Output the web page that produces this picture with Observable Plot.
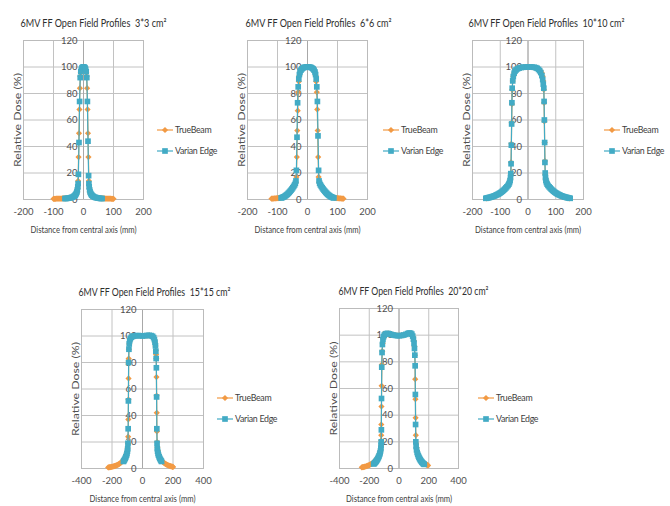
<!DOCTYPE html>
<html>
<head>
<meta charset="utf-8">
<script src="https://cdn.jsdelivr.net/npm/d3@7"></script>
<script src="https://cdn.jsdelivr.net/npm/@observablehq/plot@0.6"></script>
<style>
  body { margin: 0; background: #fff; }
  #chart { position: relative; width: 670px; height: 506px; overflow: hidden; background: #fff; }
  #chart svg { position: absolute; }
</style>
</head>
<body>
<div id="chart"></div>
<script>
// Off-axis dose profiles, [distance from central axis (mm), relative dose (%)]

const trueBeam3 = [[-100,0.5],[-97,0.5],[-94,0.5],[-91,0.6],[-88,0.6],[-85,0.6],[-82,0.6],[-79,0.7],[-76,0.7],[-73,0.7],[-70,0.8],[-67,0.8],[-64,0.8],[-60,0.9],[-55,1.0],[-50,1.1],[-45,1.3],[-40,1.5],[-35,1.9],[-30,2.5],[-26,3.4],[-23,4.6],[-21,6.2],[-19.5,8.5],[-18,14],[-16.5,32],[-15,50],[-13.5,68],[-12,84],[-10.5,93],[-9,96],[-7,98],[-5,99.2],[-3,99.8],[-1,100],[1,100],[3,99.8],[5,99.2],[7,98],[9,96],[10.5,93],[12,84],[13.5,68],[15,50],[16.5,32],[18,14],[19.5,8.5],[21,6.2],[23,4.6],[26,3.4],[30,2.5],[35,1.9],[40,1.5],[45,1.3],[50,1.1],[55,1.0],[60,0.9],[64,0.8],[67,0.8],[70,0.8],[73,0.7],[76,0.7],[79,0.7],[82,0.6],[85,0.6],[88,0.6],[91,0.6],[94,0.5],[97,0.5],[100,0.5]];
const edge3 = [[-62,0.7],[-58,0.8],[-54,0.9],[-50,1.0],[-46,1.2],[-42,1.4],[-38,1.7],[-34,2.1],[-31,2.6],[-28,3.2],[-26,3.8],[-24,4.6],[-22,5.7],[-20.5,7.2],[-19,9.5],[-18,12],[-17,19],[-15,43],[-13,74],[-11,92],[-9,96.5],[-7,98.3],[-5,99.3],[-3,99.8],[-1,100],[1,100],[3,99.8],[5,99.3],[7,98.3],[9,96.5],[11,92],[13,74],[15,44],[17,18],[18,12],[19,9.5],[20.5,7.2],[22,5.7],[24,4.6],[26,3.8],[28,3.2],[31,2.6],[34,2.1],[38,1.7],[42,1.4],[46,1.2],[50,1.0],[54,0.9],[58,0.8],[62,0.7]];

const trueBeam6 = [[-120,0.6],[-117,0.7],[-114,0.7],[-111,0.8],[-108,0.8],[-105,0.9],[-102,1.0],[-99,1.0],[-96,1.1],[-93,1.2],[-90,1.3],[-86,1.6],[-80,2.2],[-74,3.0],[-68,4.0],[-62,5.2],[-56,6.6],[-50,8.2],[-46,9.6],[-42,11.2],[-39,13],[-37,17],[-35.5,32],[-34,52],[-32.5,67],[-31,81],[-29,89],[-27,93.5],[-24,96.3],[-20,98],[-15,99.1],[-10,99.7],[-5,100],[0,100],[5,100],[10,99.7],[15,99.1],[20,98],[24,96.3],[27,93.5],[29,89],[31,81],[32.5,68],[34,52],[35.5,32],[37,17],[39,13],[42,11.2],[46,9.6],[50,8.2],[56,6.6],[62,5.2],[68,4.0],[74,3.0],[80,2.2],[86,1.6],[90,1.3],[93,1.2],[96,1.1],[99,1.0],[102,1.0],[105,0.9],[108,0.8],[111,0.8],[114,0.7],[117,0.7],[120,0.6]];
const edge6 = [[-88,1.2],[-85,1.4],[-82,1.7],[-79,2.0],[-76,2.4],[-73,2.9],[-70,3.4],[-67,4.0],[-64,4.7],[-61,5.4],[-58,6.2],[-55,7.0],[-52,7.9],[-49,8.9],[-46,9.9],[-43,11],[-40.5,12.2],[-38.5,14],[-37,22],[-35,47],[-33,73],[-31,85],[-29,91],[-27,94.3],[-25,96.2],[-22,97.6],[-19,98.5],[-16,99.1],[-12,99.6],[-8,99.9],[-4,100],[0,100],[4,100],[8,99.9],[12,99.6],[16,99.1],[19,98.5],[22,97.6],[25,96.2],[27,94.3],[29,91],[31,85],[33,74],[35,48],[37,22],[38.5,14],[40.5,12.2],[43,11],[46,9.9],[49,8.9],[52,7.9],[55,7.0],[58,6.2],[61,5.4],[64,4.7],[67,4.0],[70,3.4],[73,2.9],[76,2.4],[79,2.0],[82,1.7],[85,1.4],[88,1.2]];

const trueBeam10 = [[-150,0.9],[-144,1.2],[-138,1.5],[-132,1.8],[-126,2.2],[-120,2.6],[-114,3.1],[-108,3.7],[-102,4.4],[-96,5.2],[-90,6.2],[-84,7.4],[-78,8.8],[-73,10.2],[-69,11.6],[-66,13.2],[-63.5,15.5],[-62,19],[-61,28],[-60,42],[-59,58],[-58,72],[-57,83],[-55,89.5],[-53,93],[-50,95.5],[-46,97],[-40,98.3],[-33,99.1],[-25,99.6],[-15,99.9],[-5,100],[5,100],[15,99.9],[25,99.6],[33,99.1],[40,98.3],[46,97],[50,95.5],[53,93],[55,89.5],[57,83],[58,73],[59,59],[60,43],[61,29],[62,19],[63.5,15.5],[66,13.2],[69,11.6],[73,10.2],[78,8.8],[84,7.4],[90,6.2],[96,5.2],[102,4.4],[108,3.7],[114,3.1],[120,2.6],[126,2.2],[132,1.8],[138,1.5],[144,1.2],[150,0.9]];
const edge10 = [[-152,0.9],[-148,1.1],[-144,1.3],[-140,1.5],[-136,1.7],[-132,1.9],[-128,2.2],[-124,2.5],[-120,2.8],[-116,3.2],[-112,3.6],[-108,4.0],[-104,4.5],[-100,5.0],[-96,5.6],[-92,6.3],[-88,7.0],[-84,7.8],[-80,8.7],[-76,9.6],[-72,10.6],[-69,11.6],[-66.5,12.8],[-64.5,14.3],[-63,16.5],[-62,19.5],[-61,27],[-60,41],[-59,57],[-58,73],[-57,84],[-55,89.5],[-53,92.8],[-50,95.3],[-47,96.8],[-43,97.8],[-38,98.6],[-32,99.2],[-25,99.6],[-18,99.8],[-10,100],[-2,100],[6,100],[14,100],[22,99.8],[28,99.5],[33,99.0],[38,98.2],[42,97.2],[46,95.8],[50,93.5],[53,90.5],[55,87],[57,84],[58,74],[59,60],[60,43],[61,28],[62,20],[63,16.5],[64.5,14.3],[66.5,12.8],[69,11.6],[72,10.6],[76,9.6],[80,8.7],[84,7.8],[88,7.0],[92,6.3],[96,5.6],[100,5.0],[104,4.5],[108,4.0],[112,3.6],[116,3.2],[120,2.8],[124,2.5],[128,2.2],[132,1.9],[136,1.7],[140,1.5],[144,1.3],[148,1.1],[152,0.9]];

const trueBeam15 = [[-225,0.8],[-220,0.9],[-215,1.0],[-210,1.1],[-205,1.2],[-200,1.3],[-195,1.5],[-190,1.6],[-185,1.8],[-180,2.0],[-175,2.2],[-170,2.4],[-165,2.7],[-160,3.0],[-155,3.3],[-150,3.7],[-145,4.1],[-140,4.6],[-135,5.1],[-130,5.7],[-125,6.4],[-120,7.2],[-115,8.2],[-110,9.5],[-105,11],[-100,13],[-97.5,15.5],[-95.5,19],[-94,24],[-93,37],[-92,52],[-91.5,68],[-90.5,83],[-89,90],[-86.5,94],[-82,96.5],[-76,98],[-68,99],[-58,99.6],[-45,100],[-30,100.2],[-15,100.1],[0,100],[15,100.1],[30,100.3],[44,100.4],[56,100.2],[66,99.7],[73,98.7],[78,97.2],[82,95.2],[85,92.5],[87.5,89],[89,86],[90.5,83],[91.5,69],[92.5,55],[93.5,42],[94.5,28],[96,20],[98,16],[101,13.5],[104,11.5],[108,9.8],[113,8.4],[118,7.3],[123,6.4],[128,5.7],[133,5.1],[138,4.6],[143,4.1],[148,3.7],[153,3.3],[158,3.0],[163,2.7],[168,2.4],[173,2.2],[178,2.0],[183,1.8],[188,1.6],[193,1.5],[198,1.3],[200,1.2]];
const edge15 = [[-125,5.3],[-121,6.0],[-117,6.8],[-113,7.7],[-109,8.8],[-105,10.0],[-102,11.3],[-99,13],[-97,15],[-95.5,19],[-94,30],[-92.5,51],[-91,80],[-89,90],[-87,94],[-84,96.5],[-80,98],[-74,99],[-66,99.6],[-56,100],[-44,100.2],[-30,100.3],[-15,100.2],[0,100],[15,100.2],[30,100.4],[44,100.5],[56,100.3],[66,99.8],[73,98.8],[78,97.3],[82,95.3],[85,92.6],[87.5,88.5],[89.5,83],[91,76],[92.5,54],[94,30],[95.5,19],[97,15],[99,13],[102,11.3],[105,10.0],[109,8.8],[113,7.7],[117,6.8],[121,6.0],[125,5.3]];

const trueBeam20 = [[-250,0.9],[-245,1.0],[-240,1.1],[-235,1.2],[-230,1.4],[-225,1.5],[-220,1.7],[-215,1.9],[-210,2.1],[-205,2.3],[-200,2.6],[-195,2.9],[-190,3.2],[-185,3.5],[-180,3.9],[-175,4.3],[-170,4.8],[-165,5.3],[-160,5.9],[-155,6.5],[-150,7.2],[-145,8.0],[-140,8.9],[-135,10],[-130,11.2],[-126,12.7],[-123,14.5],[-121,17],[-120,21],[-119.5,25],[-119,33],[-118,46.5],[-117,62],[-115,78],[-112.5,88],[-109.5,94],[-105,97.6],[-99,99.5],[-90,100.6],[-80,101.1],[-70,101.2],[-60,101],[-45,100.5],[-30,100.1],[-15,99.8],[0,99.7],[15,99.8],[30,100.1],[45,100.6],[60,101.1],[70,101.4],[80,101.2],[88,100.4],[95,98.6],[100,95.8],[104,91.5],[107,85],[109,67],[110.5,52],[111.5,38],[113,25],[115,19],[118,15.5],[122,12.8],[127,10.8],[132,9.3],[137,8.1],[142,7.1],[147,6.3],[152,5.6],[157,5.0],[162,4.5],[167,4.1],[172,3.7],[177,3.4],[182,3.1],[187,2.8],[192,2.5],[195,2.3]];
const edge20 = [[-170,3.4],[-166,3.8],[-162,4.3],[-158,4.8],[-154,5.4],[-150,6.0],[-146,6.7],[-142,7.5],[-138,8.4],[-134,9.4],[-130,10.6],[-127,11.8],[-124,13.3],[-122,15],[-120.5,17.5],[-119.5,20],[-118.5,29],[-117.5,52.5],[-116,76],[-114,87],[-111.5,93],[-108,96.8],[-104,98.8],[-99,100],[-92,100.8],[-84,101.2],[-75,101.3],[-65,101],[-52,100.5],[-38,100.1],[-24,99.8],[-10,99.6],[4,99.6],[18,99.8],[32,100.1],[46,100.6],[58,101.2],[68,101.6],[78,101.5],[86,100.8],[92,99.3],[97,97],[101,94],[104,90],[106.5,85],[108.5,77],[110,55.5],[111.5,33],[113,20],[115,16.5],[118,14],[122,12],[126,10.6],[130,9.4],[134,8.4],[138,7.5],[142,6.7],[146,6.0],[150,5.4],[154,4.8],[158,4.3],[162,3.8],[166,3.4],[170,3.1]];

// Axis ticks and labels
const xTicksNarrow = [-200, -100, 0, 100, 200];
const xTicksWide = [-400, -200, 0, 200, 400];
const yTicks = [0, 20, 40, 60, 80, 100, 120];
const seriesNames = ["TrueBeam", "Varian Edge"];
const fieldSizes = ["3*3", "6*6", "10*10", "15*15", "20*20"];
const yTitle = "Relative Dose (%)";
const xTitle = "Distance from central axis (mm)";

const orange = "#f29a44";
const teal = "#42abc5";
const font = "Lato, 'Open Sans', sans-serif";

// Layout: plot frame [left, right, top, bottom], title centre x and length, legend anchor [x, y] in page pixels
const panels = [
  {field: fieldSizes[0], tb: trueBeam3,  ve: edge3,  ticks: xTicksNarrow, frame: [23, 143, 40, 199],  titleX: 93,  titleLen: 146, legend: [157, 130]},
  {field: fieldSizes[1], tb: trueBeam6,  ve: edge6,  ticks: xTicksNarrow, frame: [247, 367, 40, 199], titleX: 318, titleLen: 146, legend: [383, 130]},
  {field: fieldSizes[2], tb: trueBeam10, ve: edge10, ticks: xTicksNarrow, frame: [472, 583, 40, 199], titleX: 546, titleLen: 156, legend: [604, 130]},
  {field: fieldSizes[3], tb: trueBeam15, ve: edge15, ticks: xTicksWide,   frame: [81, 203, 309, 468], titleX: 154, titleLen: 152, legend: [217, 398]},
  {field: fieldSizes[4], tb: trueBeam20, ve: edge20, ticks: xTicksWide,   frame: [339, 458, 308, 468], titleX: 413, titleLen: 150, legend: [478, 398]}
];

const chart = document.getElementById("chart");

for (const p of panels) {
  const [L, R, T, B] = p.frame;
  const left = L - 26, top = T - 36;
  const width = Math.min(p.legend[0] + 64, 670) - left;
  const height = B + 42 - top;
  const px = d => d[0], py = d => d[1];
  const title = `6MV FF Open Field Profiles  ${p.field} cm²`;

  const svg = Plot.plot({
    width, height,
    marginLeft: L - left,
    marginRight: width - (R - left),
    marginTop: T - top,
    marginBottom: height - (B - top),
    x: {domain: [p.ticks[0], p.ticks[p.ticks.length - 1]], axis: null},
    y: {domain: [0, 120], axis: null},
    style: {background: "transparent", overflow: "visible", fontFamily: font},
    marks: [
      Plot.ruleX(p.ticks, {stroke: "#c2c2c2", strokeWidth: 1}),
      Plot.ruleY(yTicks, {stroke: "#c2c2c2", strokeWidth: 1}),
      Plot.ruleX([0], {stroke: "#a8a8a8", strokeWidth: 1}),
      Plot.frame({stroke: "#bbbbbb"}),
      Plot.text(p.ticks, {x: d => d, text: d => String(d), frameAnchor: "bottom", dy: 15, fontSize: 9.5, fill: "#505050"}),
      Plot.text(yTicks, {x: () => 0, y: d => d, text: d => String(d), textAnchor: "end", dx: -6, fontSize: 9.5, fill: "#505050"}),
      Plot.line(p.tb, {x: px, y: py, stroke: orange, strokeWidth: 1.2}),
      Plot.dot(p.tb, {x: px, y: py, symbol: "diamond2", r: 2.8, fill: orange}),
      Plot.line(p.ve, {x: px, y: py, stroke: teal, strokeWidth: 1.2}),
      Plot.dot(p.ve, {x: px, y: py, symbol: "square", r: 3.2, fill: teal}),
      Plot.text([title], {frameAnchor: "top", textAnchor: "middle", dx: p.titleX - (L + R) / 2, dy: -22, fontSize: 11.5, fill: "#2e2e2e"}),
      Plot.text([yTitle], {frameAnchor: "left", textAnchor: "middle", rotate: -90, dx: -6, fontSize: 9.5, fill: "#505050"}),
      Plot.text([xTitle], {frameAnchor: "bottom", textAnchor: "middle", dy: 33, fontSize: 10, fill: "#404040"})
    ]
  });

  // fit the condensed label widths
  const s = d3.select(svg);
  const fit = (str, len) => s.selectAll("text").filter(function () { return this.textContent === str; })
    .attr("textLength", len).attr("lengthAdjust", "spacingAndGlyphs");
  fit(yTitle, 94);
  fit(xTitle, 106);
  fit(title, p.titleLen).attr("style", "white-space: pre");

  // legend: line + marker + name for each series
  const lg = s.append("g").attr("font-family", font).attr("font-size", 8.8).attr("fill", "#404040").attr("text-anchor", "start");
  const symbols = [[d3.symbolDiamond2, orange, 2.8], [d3.symbolSquare, teal, 3.2]];
  seriesNames.forEach((name, i) => {
    const x0 = p.legend[0] - left, y0 = p.legend[1] - top + i * 21;
    const [sym, color, r] = symbols[i];
    lg.append("line").attr("x1", x0).attr("x2", x0 + 16).attr("y1", y0).attr("y2", y0)
      .attr("stroke", color).attr("stroke-width", 1.2);
    lg.append("path").attr("d", d3.symbol(sym, Math.PI * r * r)())
      .attr("transform", `translate(${x0 + 8},${y0})`).attr("fill", color);
    lg.append("text").attr("x", x0 + 18).attr("y", y0).attr("dy", "0.32em")
      .attr("letter-spacing", "-0.3px").text(name);
  });

  svg.style.left = left + "px";
  svg.style.top = top + "px";
  chart.appendChild(svg);
}
</script>
</body>
</html>
